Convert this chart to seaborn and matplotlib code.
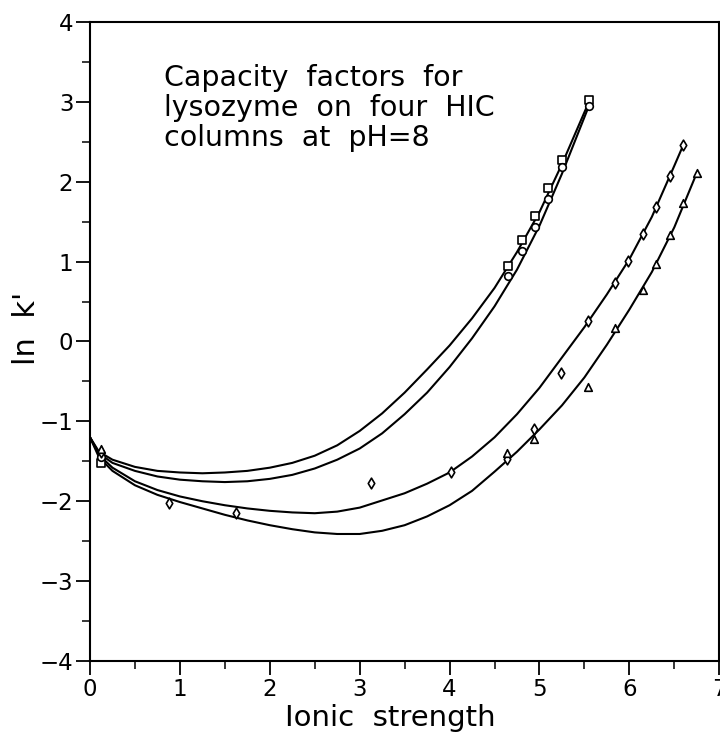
import numpy as np
import pandas as pd
import seaborn as sns
import matplotlib.pyplot as plt
from matplotlib.ticker import MultipleLocator

# fitted curves (ionic strength -> ln k')
curve_x = [0.0, 0.1, 0.25, 0.5, 0.75, 1.0, 1.25, 1.5, 1.75, 2.0, 2.25, 2.5, 2.75,
           3.0, 3.25, 3.5, 3.75, 4.0, 4.25, 4.5, 4.75, 5.0, 5.25, 5.5, 5.75,
           6.0, 6.25, 6.5, 6.75]
curve_a = [-1.20, -1.38, -1.48, -1.57, -1.62, -1.64, -1.65, -1.64, -1.62, -1.58, -1.52,
           -1.43, -1.30, -1.12, -0.90, -0.64, -0.35, -0.05, 0.29, 0.67, 1.12, 1.62,
           2.22]
curve_b = [-1.20, -1.40, -1.52, -1.62, -1.69, -1.73, -1.75, -1.76, -1.75, -1.72, -1.67,
           -1.59, -1.48, -1.34, -1.15, -0.91, -0.64, -0.32, 0.04, 0.44, 0.90, 1.45,
           2.10]
curve_c = [-1.20, -1.42, -1.58, -1.75, -1.86, -1.94, -2.00, -2.05, -2.09, -2.12, -2.14,
           -2.15, -2.13, -2.08, -1.99, -1.90, -1.78, -1.64, -1.44, -1.20, -0.91, -0.58,
           -0.20, 0.18, 0.59, 1.03, 1.56, 2.20]
curve_d = [-1.20, -1.45, -1.62, -1.80, -1.92, -2.01, -2.09, -2.17, -2.24, -2.30, -2.35,
           -2.39, -2.41, -2.41, -2.37, -2.30, -2.19, -2.05, -1.87, -1.63, -1.38, -1.10,
           -0.80, -0.45, -0.04, 0.40, 0.87, 1.43, 2.11]
# end points of the curves
end_a = (5.55, 3.00)
end_b = (5.55, 2.95)
end_c = (6.60, 2.46)

# measured points
sq_x = [0.12, 4.65, 4.80, 4.95, 5.10, 5.25, 5.55]
sq_y = [-1.52, 0.95, 1.27, 1.57, 1.92, 2.27, 3.02]
ci_x = [0.12, 4.65, 4.80, 4.95, 5.10, 5.25, 5.55]
ci_y = [-1.45, 0.82, 1.13, 1.43, 1.78, 2.18, 2.95]
di_x = [0.12, 0.88, 1.62, 3.13, 4.02, 4.64, 4.94, 5.24, 5.54, 5.84, 5.99, 6.15, 6.30, 6.45, 6.60]
di_y = [-1.38, -2.02, -2.15, -1.77, -1.64, -1.47, -1.10, -0.39, 0.26, 0.73, 1.01, 1.34, 1.68, 2.07, 2.46]
tr_x = [0.12, 4.64, 4.94, 5.54, 5.84, 6.15, 6.30, 6.45, 6.60, 6.75]
tr_y = [-1.34, -1.40, -1.22, -0.57, 0.17, 0.64, 0.97, 1.33, 1.73, 2.11]

sns.set_style("ticks")
plt.rcParams['font.family'] = ['DejaVu Sans']
plt.rcParams['text.color'] = 'black'
plt.rcParams['axes.labelcolor'] = 'black'
plt.rcParams['xtick.color'] = 'black'
plt.rcParams['ytick.color'] = 'black'

fig = plt.figure(figsize=(7.2, 7.32), dpi=100)
ax = fig.add_axes([0.125, 0.097, 0.874, 0.873])


def curve_frame(ys, end=None):
    xs = curve_x[:len(ys)]
    ys = list(ys)
    if end is not None:
        xs = xs + [end[0]]
        ys = ys + [end[1]]
    return pd.DataFrame({"I": xs, "lnk": ys})


for ys, end in [(curve_a, end_a), (curve_b, end_b), (curve_c, end_c), (curve_d, None)]:
    sns.lineplot(data=curve_frame(ys, end), x="I", y="lnk", color="black",
                 linewidth=1.5, ax=ax, estimator=None, sort=False)

pts = [(sq_x, sq_y, "s"), (ci_x, ci_y, "o"), (di_x, di_y, "d"), (tr_x, tr_y, "^")]
for xs, ys, m in pts:
    sns.scatterplot(x=xs, y=ys, marker=m, s=30, facecolor="white",
                    edgecolor="black", linewidth=1.2, ax=ax, zorder=3)

ax.set_xlim(0, 7)
ax.set_ylim(-4, 4)
ax.xaxis.set_major_locator(MultipleLocator(1))
ax.xaxis.set_minor_locator(MultipleLocator(0.5))
ax.yaxis.set_major_locator(MultipleLocator(1))
ax.yaxis.set_minor_locator(MultipleLocator(0.5))
ax.tick_params(which="major", direction="out", length=10, width=1.3, labelsize=16.5, pad=2)
ax.tick_params(which="minor", direction="out", length=6, width=1.1)
for s in ax.spines.values():
    s.set_linewidth(1.5)
    s.set_color("black")
    s.set_visible(True)

ax.set_xlabel("Ionic  strength", fontsize=21)
ax.set_ylabel("ln  k'", fontsize=22)
ax.xaxis.set_label_coords(0.477, -0.067)
ax.yaxis.set_label_coords(-0.078, 0.52)

ax.text(0.82, 3.47, "Capacity  factors  for\nlysozyme  on  four  HIC\ncolumns  at  pH=8",
        fontsize=20.5, va="top", ha="left", linespacing=1.08)

fig.savefig("out.png", dpi=100)
